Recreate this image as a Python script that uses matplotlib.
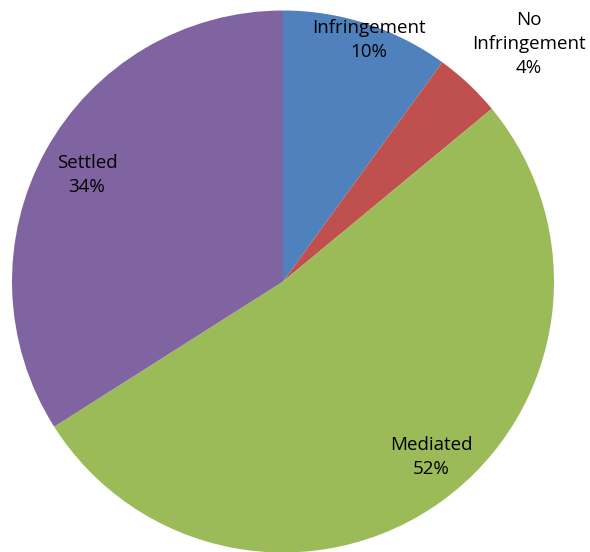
import matplotlib
matplotlib.use("Agg")
import matplotlib.pyplot as plt

categories = ["Infringement", "No\nInfringement", "Mediated", "Settled"]
values = [10, 4, 52, 34]
colors = ["#4F81BD", "#C0504D", "#9BBB59", "#8064A2"]

# label anchor positions (pixel coords, y from top)
label_pos = [(369, 40), (529, 44), (431, 457), (87, 175)]

W, H = 590, 552
fig = plt.figure(figsize=(W / 100, H / 100), dpi=100)
ax = fig.add_axes([0, 0, 1, 1])
cx, cy, r = 283, 281.5, 271
ax.pie(values, colors=colors, startangle=90, counterclock=False,
       center=(cx, H - cy), radius=r, frame=True,
       wedgeprops=dict(linewidth=0))
ax.set_xlim(0, W)
ax.set_ylim(0, H)
ax.set_aspect("equal")
ax.axis("off")

total = sum(values)
for cat, v, (x, y) in zip(categories, values, label_pos):
    ax.text(x, H - y, f"{cat}\n{round(100 * v / total)}%", ha="center", va="center",
            fontsize=13.5, family=["Open Sans", "DejaVu Sans"], color="#000000",
            linespacing=1.4)

fig.savefig("out.png", dpi=100)
